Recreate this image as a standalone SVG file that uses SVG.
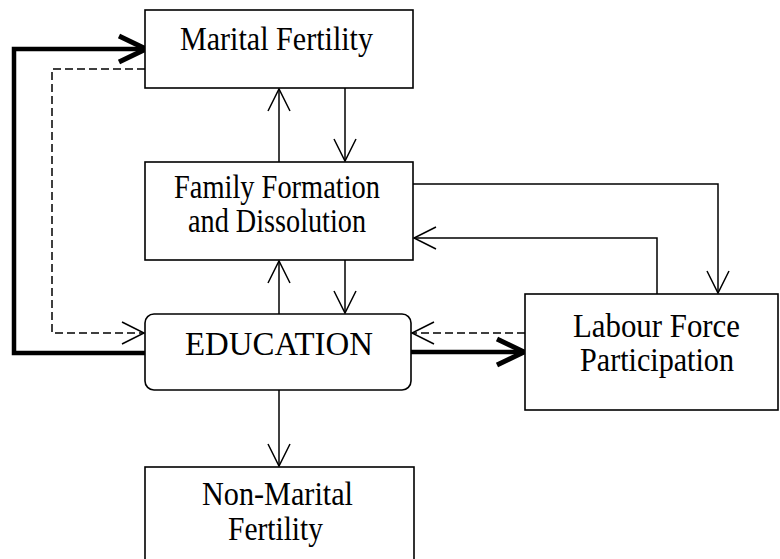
<svg xmlns="http://www.w3.org/2000/svg" width="780" height="559" viewBox="0 0 780 559">
<defs>
<style>
.box{fill:#fff;stroke:#000;stroke-width:1.6}
.t{font-family:"Liberation Serif","Times New Roman",serif;font-size:33px;fill:#000}
.ln{fill:none;stroke:#000;stroke-width:1.5}
.dash{fill:none;stroke:#000;stroke-width:1.5;stroke-dasharray:8 4}
.thick{fill:none;stroke:#000;stroke-width:4.5}
</style>
<marker id="arr" markerUnits="userSpaceOnUse" orient="auto" refX="0" refY="0" overflow="visible" markerWidth="30" markerHeight="30">
<path d="M-22,-11 L0,0 L-22,11" fill="none" stroke="#000" stroke-width="1.5"/>
</marker>
<marker id="arrT" markerUnits="userSpaceOnUse" orient="auto" refX="0" refY="0" overflow="visible" markerWidth="40" markerHeight="40">
<path d="M-27,-13 L0,0 L-27,13" fill="none" stroke="#000" stroke-width="5"/>
</marker>
</defs>
<g id="connectors">
<path class="ln" d="M279,162 V89" marker-end="url(#arr)"/>
<path class="ln" d="M345,88 V161" marker-end="url(#arr)"/>
<path class="ln" d="M279,314 V261" marker-end="url(#arr)"/>
<path class="ln" d="M345,260 V313" marker-end="url(#arr)"/>
<path class="ln" d="M413,184 H718 V293" marker-end="url(#arr)"/>
<path class="ln" d="M657,294 V238 H414" marker-end="url(#arr)"/>
<path class="ln" d="M279,390 V466" marker-end="url(#arr)"/>
<path class="dash" d="M525,333 H412" marker-end="url(#arr)"/>
<path class="dash" d="M145,69 H52 V333 H144" marker-end="url(#arr)"/>
<path class="thick" d="M410,352 H524" marker-end="url(#arrT)"/>
<path class="thick" d="M145,353 H14 V49 H146" marker-end="url(#arrT)"/>
</g>
<g id="marital">
<rect class="box" x="145" y="10" width="268" height="78"/>
<text class="t" x="180" y="50" textLength="193" lengthAdjust="spacingAndGlyphs">Marital Fertility</text>
</g>
<g id="family">
<rect class="box" x="145" y="162" width="268" height="98"/>
<text class="t" x="174" y="198" textLength="206" lengthAdjust="spacingAndGlyphs">Family Formation</text>
<text class="t" x="188" y="232" textLength="178" lengthAdjust="spacingAndGlyphs">and Dissolution</text>
</g>
<g id="education">
<rect class="box" x="145" y="314" width="266" height="76" rx="9" ry="9"/>
<text class="t" x="185" y="355" textLength="188" lengthAdjust="spacingAndGlyphs">EDUCATION</text>
</g>
<g id="labour">
<rect class="box" x="525" y="294" width="253" height="116"/>
<text class="t" x="573" y="337" textLength="167" lengthAdjust="spacingAndGlyphs">Labour Force</text>
<text class="t" x="580" y="371" textLength="154" lengthAdjust="spacingAndGlyphs">Participation</text>
</g>
<g id="nonmarital">
<rect class="box" x="145" y="467" width="269" height="100"/>
<text class="t" x="202" y="505" textLength="151" lengthAdjust="spacingAndGlyphs">Non-Marital</text>
<text class="t" x="228" y="540" textLength="95" lengthAdjust="spacingAndGlyphs">Fertility</text>
</g>
</svg>
